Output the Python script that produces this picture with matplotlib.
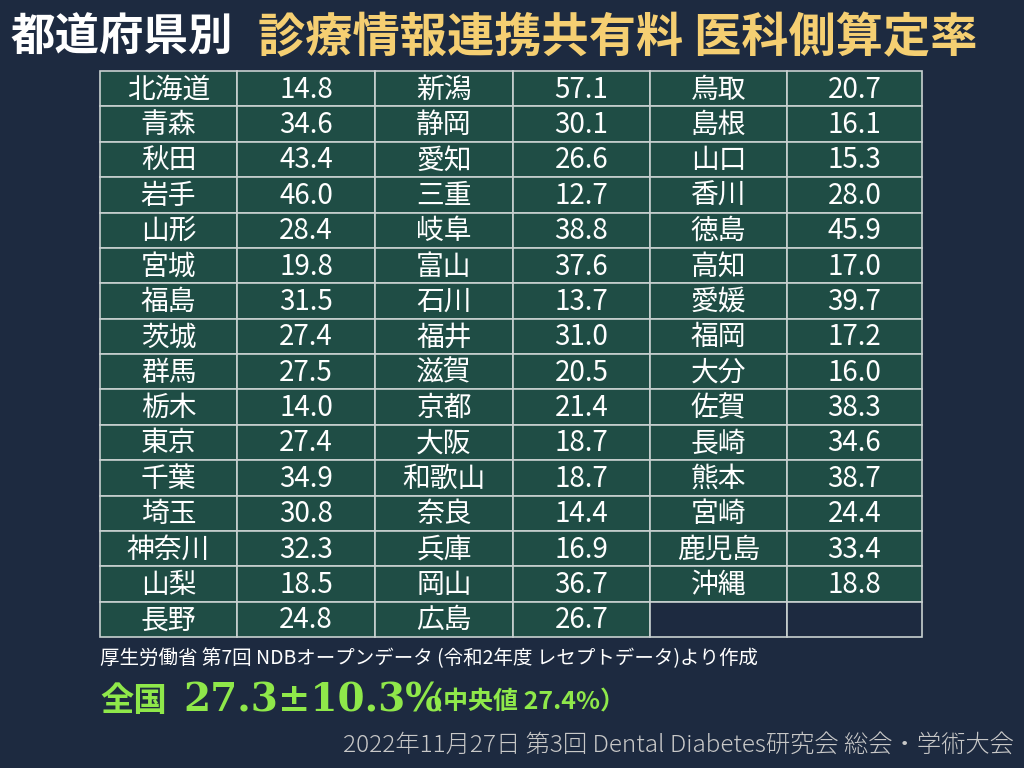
import matplotlib
matplotlib.use("Agg")
import matplotlib.pyplot as plt
from matplotlib.patches import Rectangle

plt.rcParams['font.family'] = ['Noto Sans CJK JP', 'DejaVu Sans']

col1_names = ["北海道","青森","秋田","岩手","山形","宮城","福島","茨城","群馬","栃木","東京","千葉","埼玉","神奈川","山梨","長野"]
col1_vals = [14.8,34.6,43.4,46.0,28.4,19.8,31.5,27.4,27.5,14.0,27.4,34.9,30.8,32.3,18.5,24.8]
col2_names = ["新潟","静岡","愛知","三重","岐阜","富山","石川","福井","滋賀","京都","大阪","和歌山","奈良","兵庫","岡山","広島"]
col2_vals = [57.1,30.1,26.6,12.7,38.8,37.6,13.7,31.0,20.5,21.4,18.7,18.7,14.4,16.9,36.7,26.7]
col3_names = ["鳥取","島根","山口","香川","徳島","高知","愛媛","福岡","大分","佐賀","長崎","熊本","宮崎","鹿児島","沖縄"]
col3_vals = [20.7,16.1,15.3,28.0,45.9,17.0,39.7,17.2,16.0,38.3,34.6,38.7,24.4,33.4,18.8]

bg = "#1d2a40"
cell = "#1f4d45"
fig = plt.figure(figsize=(10.24, 7.68), dpi=100, facecolor=bg)
ax = fig.add_axes([0, 0, 1, 1])
ax.set_xlim(0, 1024); ax.set_ylim(768, 0); ax.axis('off')
ax.set_facecolor(bg)

x_edges = [100, 237, 375, 513, 650, 787, 922]
y0, y1, nrows = 71, 637, 16
rh = (y1 - y0) / nrows
groups = [(col1_names, col1_vals), (col2_names, col2_vals), (col3_names, col3_vals)]
for g, (names, vals) in enumerate(groups):
    for r in range(nrows):
        for k in range(2):
            xl, xr = x_edges[2*g+k], x_edges[2*g+k+1]
            yt = y0 + r*rh
            ax.add_patch(Rectangle((xl, yt), xr-xl, rh, facecolor=cell if r < len(names) else bg,
                                   edgecolor="#c8d0d0", lw=1.2))
            if r < len(names):
                txt = names[r] if k == 0 else f"{vals[r]:.1f}"
                ax.text((xl+xr)/2, yt+rh/2+1, txt, color="white", fontsize=20,
                        ha='center', va='center')

ax.text(10, 38, "都道府県別", color="white", fontsize=32, fontweight='bold', va='center')
ax.text(258, 38, "診療情報連携共有料 医科側算定率", color="#f5cf72", fontsize=34, fontweight='bold', va='center')
ax.text(100, 659, "厚生労働省 第7回 NDBオープンデータ (令和2年度 レセプトデータ)より作成", color="white",
        fontsize=14, va='center')
ax.text(100, 701, "全国", color="#8fe84a", fontsize=24, fontweight='bold', va='center')
ax.text(183, 701, "27.3±10.3%", color="#8fe84a", fontsize=28, fontweight='bold', va='center',
        family=['DejaVu Serif', 'Noto Sans CJK JP'])
ax.text(418, 703, "（中央値 27.4%）", color="#8fe84a", fontsize=18, fontweight='bold', va='center')
ax.text(1014, 745, "2022年11月27日 第3回 Dental Diabetes研究会 総会・学術大会", color="#c8c8c8",
        fontsize=17.5, ha='right', va='center', fontweight='light')

fig.savefig("out.png", dpi=100, facecolor=bg)
